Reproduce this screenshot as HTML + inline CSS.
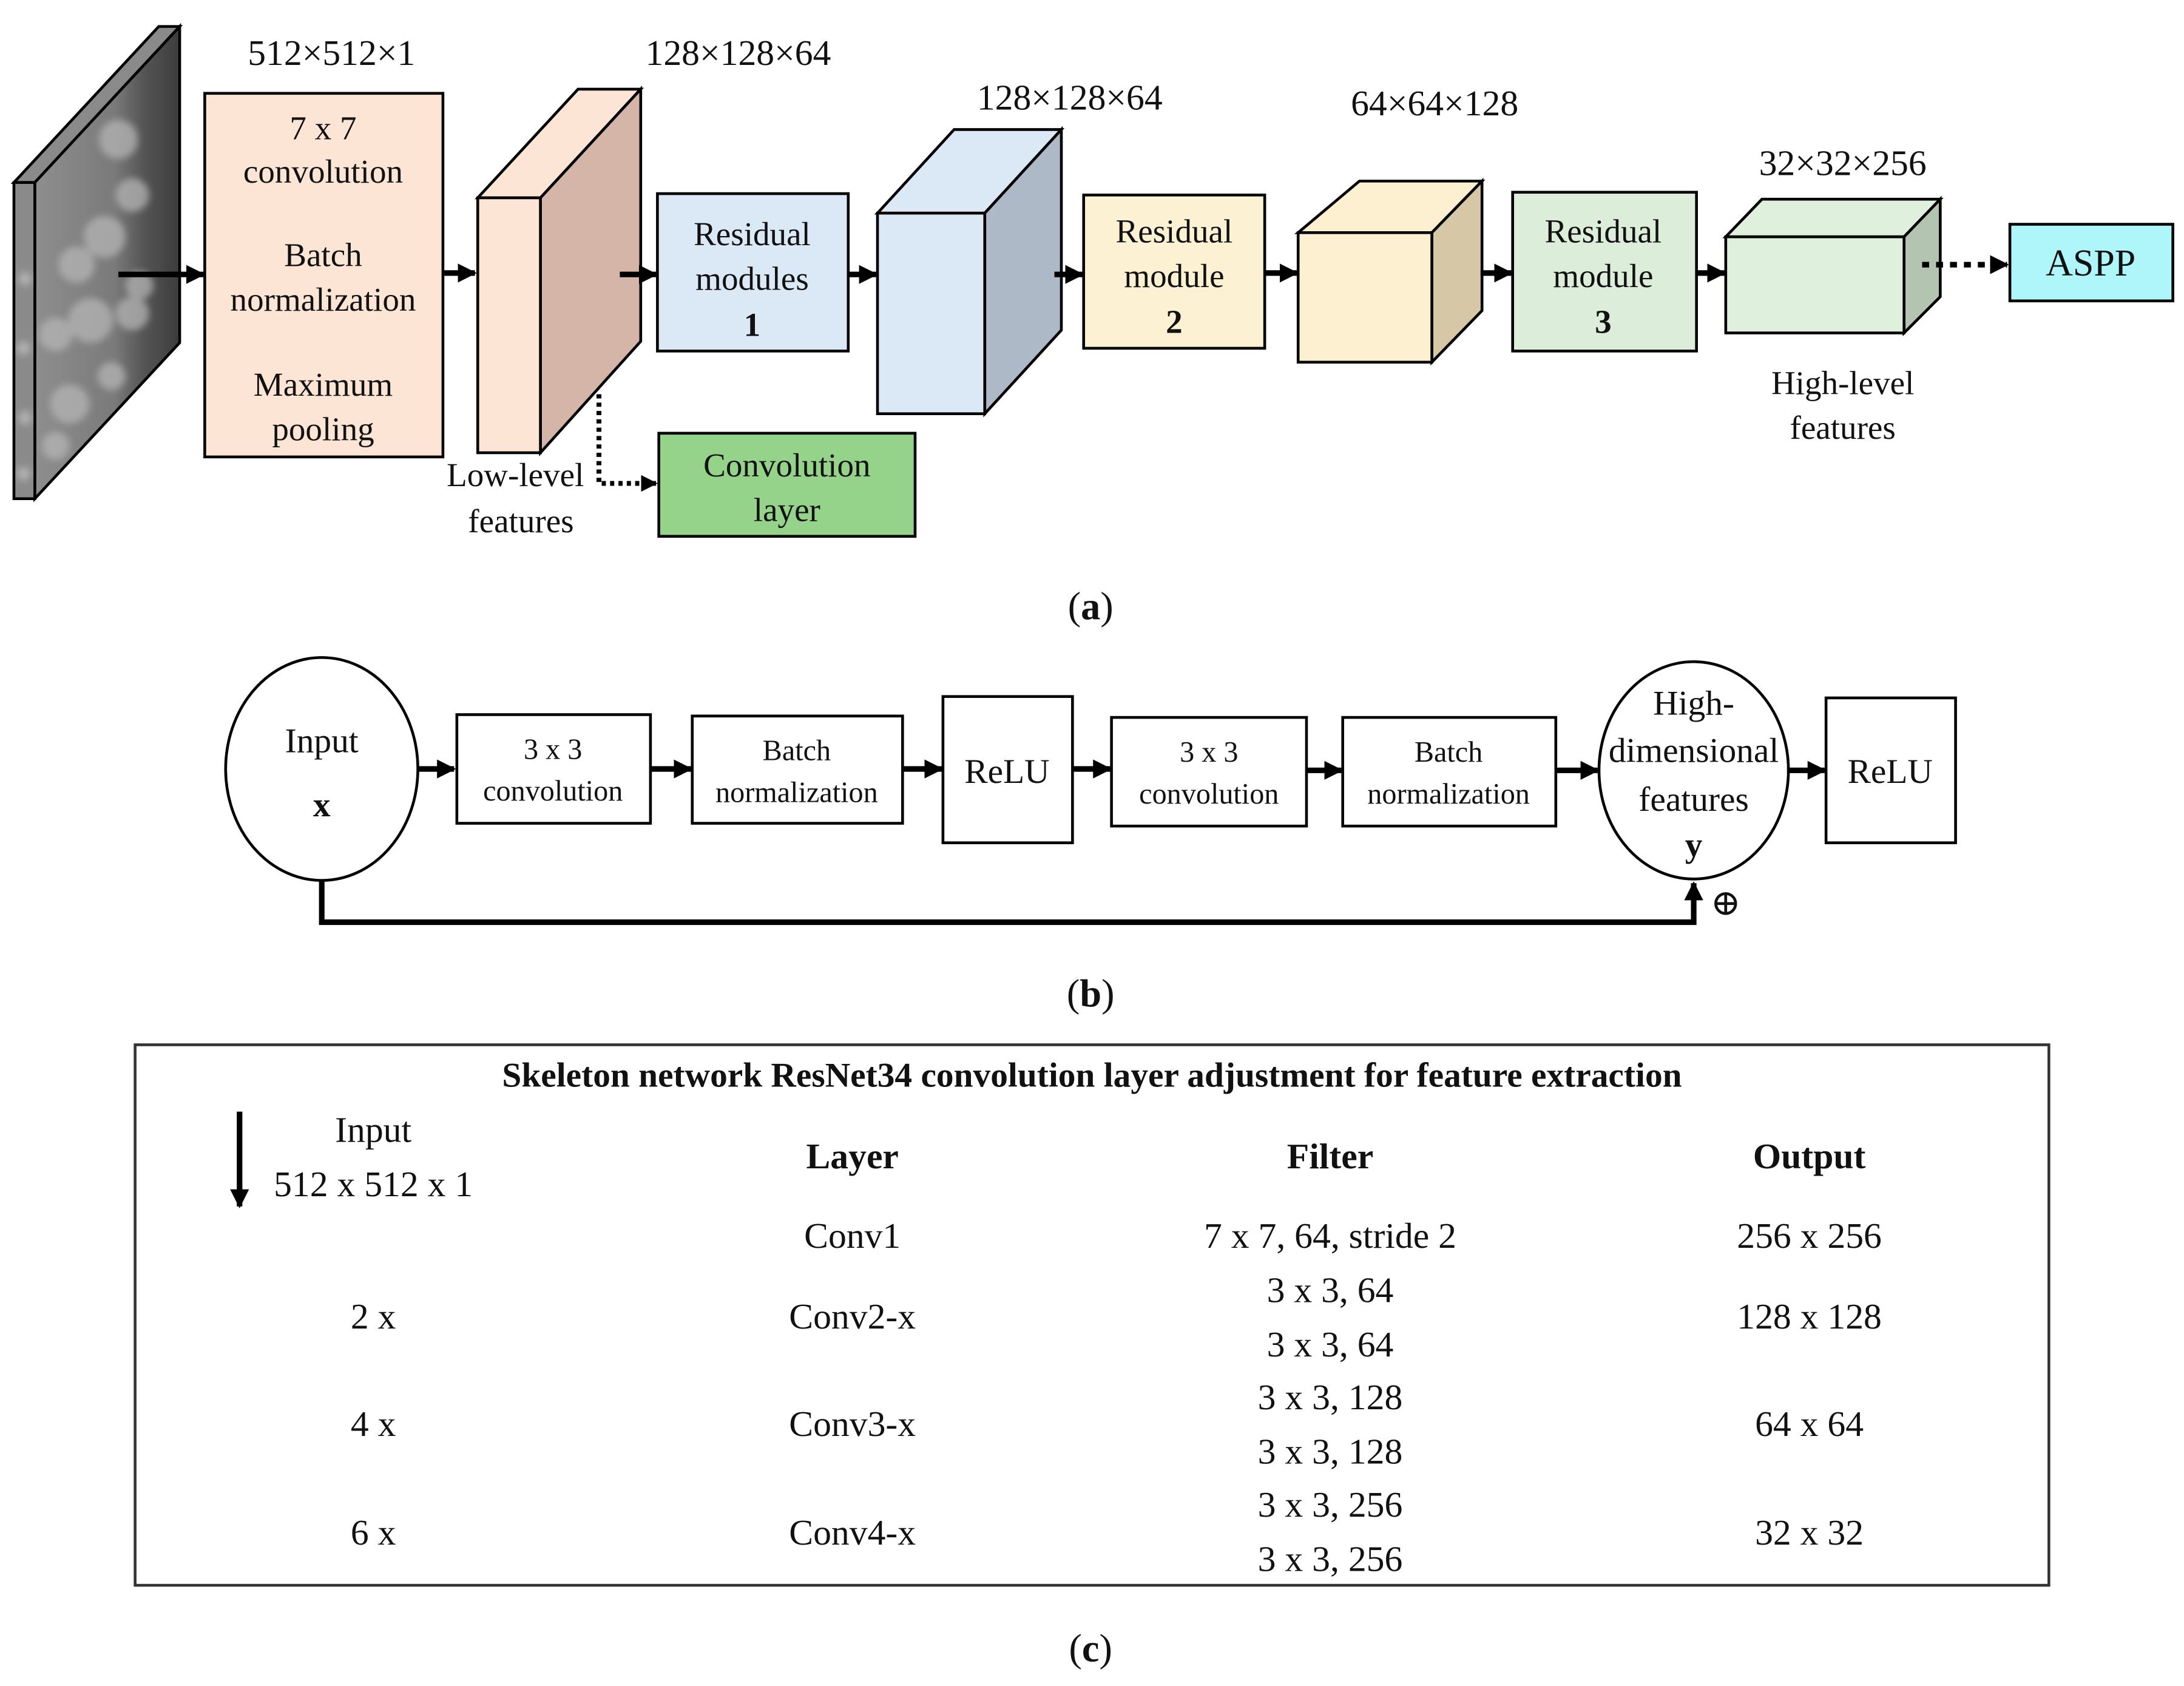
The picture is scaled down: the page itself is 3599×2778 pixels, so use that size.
<!DOCTYPE html>
<html><head><meta charset="utf-8"><style>
html,body{margin:0;padding:0;background:#fff;}
svg{display:block;}
text{font-family:"Liberation Serif","DejaVu Serif",serif;fill:#111;}
</style></head><body>
<svg width="3599" height="2778" viewBox="0 0 1568 1210.3" preserveAspectRatio="none" xmlns="http://www.w3.org/2000/svg" font-family="Liberation Serif, serif">
<defs>
<marker id="ah" viewBox="0 0 10 10" refX="9" refY="5" markerWidth="3.4" markerHeight="3.4" orient="auto"><path d="M0,0 L10,5 L0,10 z" fill="#000"/></marker>
<linearGradient id="img" x1="0" y1="0" x2="1" y2="0"><stop offset="0" stop-color="#8e8e8e"/><stop offset="0.55" stop-color="#7a7a7a"/><stop offset="0.75" stop-color="#555"/><stop offset="1" stop-color="#3c3c3c"/></linearGradient>
<filter id="blur"><feGaussianBlur stdDeviation="2.5"/></filter>
</defs>
<rect width="1568" height="1210.3" fill="#fff"/>

<!-- (a) input image slab -->
<polygon points="10,131 25,131 129,19 114,19" fill="#8a8a8a" stroke="#000" stroke-width="2"/>
<polygon points="25,131 129,19 129,246 25,358" fill="url(#img)" stroke="#000" stroke-width="2"/>
<g fill="#b5b5b5" opacity="0.75" filter="url(#blur)">
<circle cx="85" cy="100" r="14"/><circle cx="95" cy="140" r="12"/><circle cx="75" cy="170" r="15"/><circle cx="55" cy="190" r="13"/><circle cx="65" cy="230" r="16"/><circle cx="40" cy="240" r="12"/><circle cx="95" cy="225" r="12"/><circle cx="50" cy="290" r="14"/><circle cx="80" cy="270" r="10"/><circle cx="40" cy="320" r="10"/><circle cx="100" cy="205" r="10"/>
</g>
<rect x="10" y="131" width="15" height="227" fill="#8a8a8a" stroke="#000" stroke-width="2"/>
<g fill="#c0c0c0" opacity="0.7" filter="url(#blur)"><circle cx="18" cy="200" r="5"/><circle cx="17" cy="250" r="5"/><circle cx="18" cy="300" r="5"/><circle cx="17" cy="340" r="5"/></g>
<line x1="85" y1="197" x2="146" y2="197" stroke="#000" stroke-width="4" marker-end="url(#ah)"/>

<rect x="147" y="67" width="171" height="261" fill="#fde5d6" stroke="#000" stroke-width="2"/>
<g font-size="24" text-anchor="middle" dominant-baseline="central">
<text x="232" y="92">7 x 7</text><text x="232" y="123">convolution</text>
<text x="232" y="183">Batch</text><text x="232" y="215">normalization</text>
<text x="232" y="276">Maximum</text><text x="232" y="308">pooling</text>
</g>
<g font-size="26" text-anchor="middle" dominant-baseline="central">
<text x="238" y="38">512×512×1</text>
<text x="530" y="38">128×128×64</text>
<text x="768" y="70">128×128×64</text>
<text x="1030" y="74">64×64×128</text>
<text x="1323" y="117">32×32×256</text>
</g>
<line x1="318" y1="196" x2="341" y2="196" stroke="#000" stroke-width="4" marker-end="url(#ah)"/>

<!-- slab2 -->
<polygon points="343,142 388,142 460,64 415,64" fill="#fde5d6" stroke="#000" stroke-width="2"/>
<polygon points="388,142 460,64 460,245 388,325" fill="#d5b5a8" stroke="#000" stroke-width="2"/>
<rect x="343" y="142" width="45" height="183" fill="#fde5d6" stroke="#000" stroke-width="2"/>
<line x1="445" y1="197" x2="471" y2="197" stroke="#000" stroke-width="4" marker-end="url(#ah)"/>
<path d="M430,283 L430,347 L471,347" fill="none" stroke="#000" stroke-width="3.5" stroke-dasharray="3,3" marker-end="url(#ah)"/>

<rect x="472" y="139" width="137" height="113" fill="#dbe9f6" stroke="#000" stroke-width="2"/>
<g font-size="24" text-anchor="middle" dominant-baseline="central">
<text x="540" y="168">Residual</text><text x="540" y="200">modules</text><text x="540" y="233" font-weight="bold">1</text>
</g>
<line x1="609" y1="197" x2="629" y2="197" stroke="#000" stroke-width="4" marker-end="url(#ah)"/>

<!-- cube3 -->
<polygon points="630,153 707,153 762,93 685,93" fill="#dbe9f6" stroke="#000" stroke-width="2"/>
<polygon points="707,153 762,93 762,237 707,297" fill="#adb9c6" stroke="#000" stroke-width="2"/>
<rect x="630" y="153" width="77" height="144" fill="#dbe9f6" stroke="#000" stroke-width="2"/>
<line x1="757" y1="197" x2="777" y2="197" stroke="#000" stroke-width="4" marker-end="url(#ah)"/>

<rect x="778" y="140" width="130" height="110" fill="#fdf1d3" stroke="#000" stroke-width="2"/>
<g font-size="24" text-anchor="middle" dominant-baseline="central">
<text x="843" y="166">Residual</text><text x="843" y="198">module</text><text x="843" y="231" font-weight="bold">2</text>
</g>
<line x1="908" y1="196" x2="931" y2="196" stroke="#000" stroke-width="4" marker-end="url(#ah)"/>

<!-- cube4 -->
<polygon points="932,167 1028,167 1064,130 976,130" fill="#fdf0d0" stroke="#000" stroke-width="2"/>
<polygon points="1028,167 1064,130 1064,223 1028,260" fill="#d6c8a6" stroke="#000" stroke-width="2"/>
<rect x="932" y="167" width="96" height="93" fill="#fdf0d0" stroke="#000" stroke-width="2"/>
<line x1="1063" y1="196" x2="1085" y2="196" stroke="#000" stroke-width="4" marker-end="url(#ah)"/>

<rect x="1086" y="138" width="132" height="114" fill="#dcedd9" stroke="#000" stroke-width="2"/>
<g font-size="24" text-anchor="middle" dominant-baseline="central">
<text x="1151" y="166">Residual</text><text x="1151" y="198">module</text><text x="1151" y="231" font-weight="bold">3</text>
</g>
<line x1="1218" y1="196" x2="1238" y2="196" stroke="#000" stroke-width="4" marker-end="url(#ah)"/>

<!-- cube5 -->
<polygon points="1239,170 1367,170 1393,143 1265,143" fill="#dff0dc" stroke="#000" stroke-width="2"/>
<polygon points="1367,170 1393,143 1393,213 1367,239" fill="#b3c5b1" stroke="#000" stroke-width="2"/>
<rect x="1239" y="170" width="128" height="69" fill="#dff0dc" stroke="#000" stroke-width="2"/>
<line x1="1380" y1="190" x2="1441" y2="190" stroke="#000" stroke-width="4" stroke-dasharray="5,5" marker-end="url(#ah)"/>
<rect x="1443" y="161" width="117" height="55" fill="#aef6fa" stroke="#000" stroke-width="2"/>
<g font-size="24" text-anchor="middle" dominant-baseline="central">
<text x="1501" y="189" font-size="27">ASPP</text>
<text x="1323" y="275">High-level</text><text x="1323" y="307">features</text>
<text x="370" y="341">Low-level</text><text x="374" y="374">features</text>
</g>
<rect x="473" y="311" width="184" height="74" fill="#96d38a" stroke="#000" stroke-width="2"/>
<g font-size="24" text-anchor="middle" dominant-baseline="central">
<text x="565" y="334">Convolution</text><text x="565" y="366">layer</text>
</g>
<text x="783" y="435" font-size="28" text-anchor="middle" dominant-baseline="central">(<tspan font-weight="bold">a</tspan>)</text>

<!-- (b) -->
<g stroke="#000" stroke-width="2" fill="#fff">
<ellipse cx="231" cy="552" rx="69" ry="80"/>
<rect x="328" y="513" width="139" height="78"/>
<rect x="497" y="514" width="151" height="77"/>
<rect x="677" y="500" width="93" height="105"/>
<rect x="798" y="515" width="140" height="78"/>
<rect x="964" y="515" width="153" height="78"/>
<ellipse cx="1216" cy="553" rx="68" ry="78"/>
<rect x="1311" y="501" width="93" height="104"/>
</g>
<g stroke="#000" stroke-width="4" marker-end="url(#ah)">
<line x1="300" y1="552" x2="326" y2="552"/>
<line x1="467" y1="552" x2="496" y2="552"/>
<line x1="648" y1="552" x2="676" y2="552"/>
<line x1="770" y1="552" x2="797" y2="552"/>
<line x1="938" y1="553" x2="963" y2="553"/>
<line x1="1117" y1="553" x2="1147" y2="553"/>
<line x1="1283" y1="553" x2="1310" y2="553"/>
</g>
<path d="M231,632 L231,662 L1216,662 L1216,634" fill="none" stroke="#000" stroke-width="4" marker-end="url(#ah)"/>
<g text-anchor="middle" dominant-baseline="central">
<text x="231" y="532" font-size="25">Input</text><text x="231" y="578" font-size="25" font-weight="bold">x</text>
<text x="397" y="538" font-size="21">3 x 3</text><text x="397" y="568" font-size="21">convolution</text>
<text x="572" y="539" font-size="21">Batch</text><text x="572" y="569" font-size="21">normalization</text>
<text x="723" y="554" font-size="25">ReLU</text>
<text x="868" y="540" font-size="21">3 x 3</text><text x="868" y="570" font-size="21">convolution</text>
<text x="1040" y="540" font-size="21">Batch</text><text x="1040" y="570" font-size="21">normalization</text>
<text x="1216" y="505" font-size="25">High-</text><text x="1216" y="539" font-size="25">dimensional</text><text x="1216" y="574" font-size="25">features</text><text x="1216" y="607" font-size="25" font-weight="bold">y</text>
<text x="1357" y="554" font-size="25">ReLU</text>
<text x="1239" y="648" font-size="26" font-family="DejaVu Sans">⊕</text>
<text x="783" y="713" font-size="28">(<tspan font-weight="bold">b</tspan>)</text>
</g>

<!-- (c) -->
<rect x="97" y="750" width="1374" height="388" fill="none" stroke="#333" stroke-width="2"/>
<line x1="172" y1="798" x2="172" y2="866" stroke="#000" stroke-width="4" marker-end="url(#ah)"/>
<g text-anchor="middle" dominant-baseline="central" font-size="26">
<text x="784" y="772" font-weight="bold" font-size="25">Skeleton network ResNet34 convolution layer adjustment for feature extraction</text>
<text x="268" y="811">Input</text><text x="268" y="850">512 x 512 x 1</text>
<text x="612" y="830" font-weight="bold">Layer</text><text x="955" y="830" font-weight="bold">Filter</text><text x="1299" y="830" font-weight="bold">Output</text>
<text x="612" y="887">Conv1</text><text x="955" y="887">7 x 7, 64, stride 2</text><text x="1299" y="887">256 x 256</text>
<text x="268" y="945">2 x</text><text x="612" y="945">Conv2-x</text><text x="955" y="926">3 x 3, 64</text><text x="955" y="965">3 x 3, 64</text><text x="1299" y="945">128 x 128</text>
<text x="268" y="1022">4 x</text><text x="612" y="1022">Conv3-x</text><text x="955" y="1003">3 x 3, 128</text><text x="955" y="1042">3 x 3, 128</text><text x="1299" y="1022">64 x 64</text>
<text x="268" y="1100">6 x</text><text x="612" y="1100">Conv4-x</text><text x="955" y="1080">3 x 3, 256</text><text x="955" y="1119">3 x 3, 256</text><text x="1299" y="1100">32 x 32</text>
<text x="783" y="1183" font-size="28">(<tspan font-weight="bold">c</tspan>)</text>
</g>
</svg>
</body></html>
